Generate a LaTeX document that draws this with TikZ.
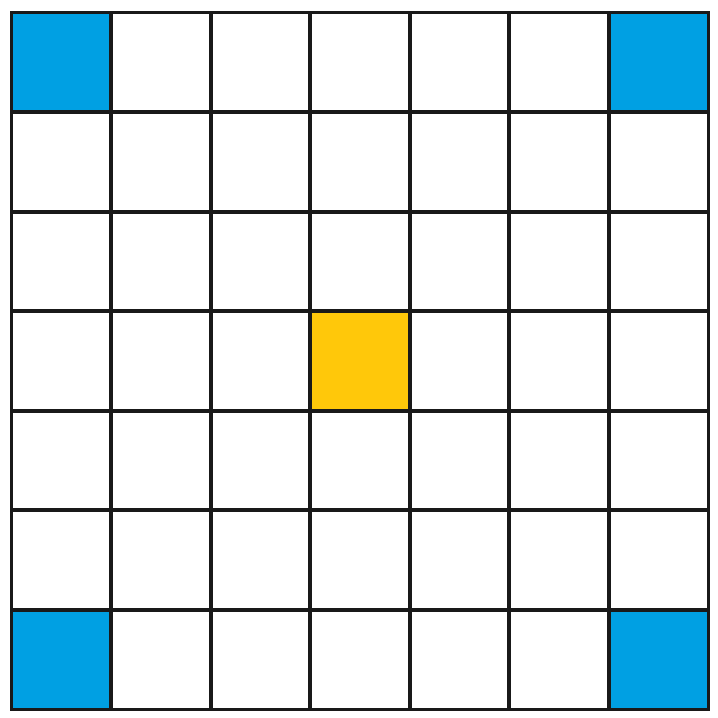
\documentclass[tikz,border=0pt]{standalone}
\definecolor{gridblue}{RGB}{0,160,227}
\definecolor{gridyellow}{RGB}{255,200,10}
\usetikzlibrary{positioning}
\begin{document}
\begin{tikzpicture}[
  gridline/.style={draw=black!90,line width=1.1pt},
  cornercell/.style={fill=gridblue},
  centercell/.style={fill=gridyellow}
]
  \useasboundingbox (-0.115,-0.085) rectangle (7.09,7.125);
  % Coloured cells: four corners and the centre
  \foreach \cx/\cy in {0/0,6/0,0/6,6/6}
    \fill[cornercell] (\cx,\cy) rectangle ++(1,1);
  \fill[centercell] (3,3) rectangle ++(1,1);
  % Grid 7 x 7
  \draw[gridline] (0,0) grid (7,7);
  \draw[gridline] (0,0) rectangle (7,7);
\end{tikzpicture}
\end{document}
